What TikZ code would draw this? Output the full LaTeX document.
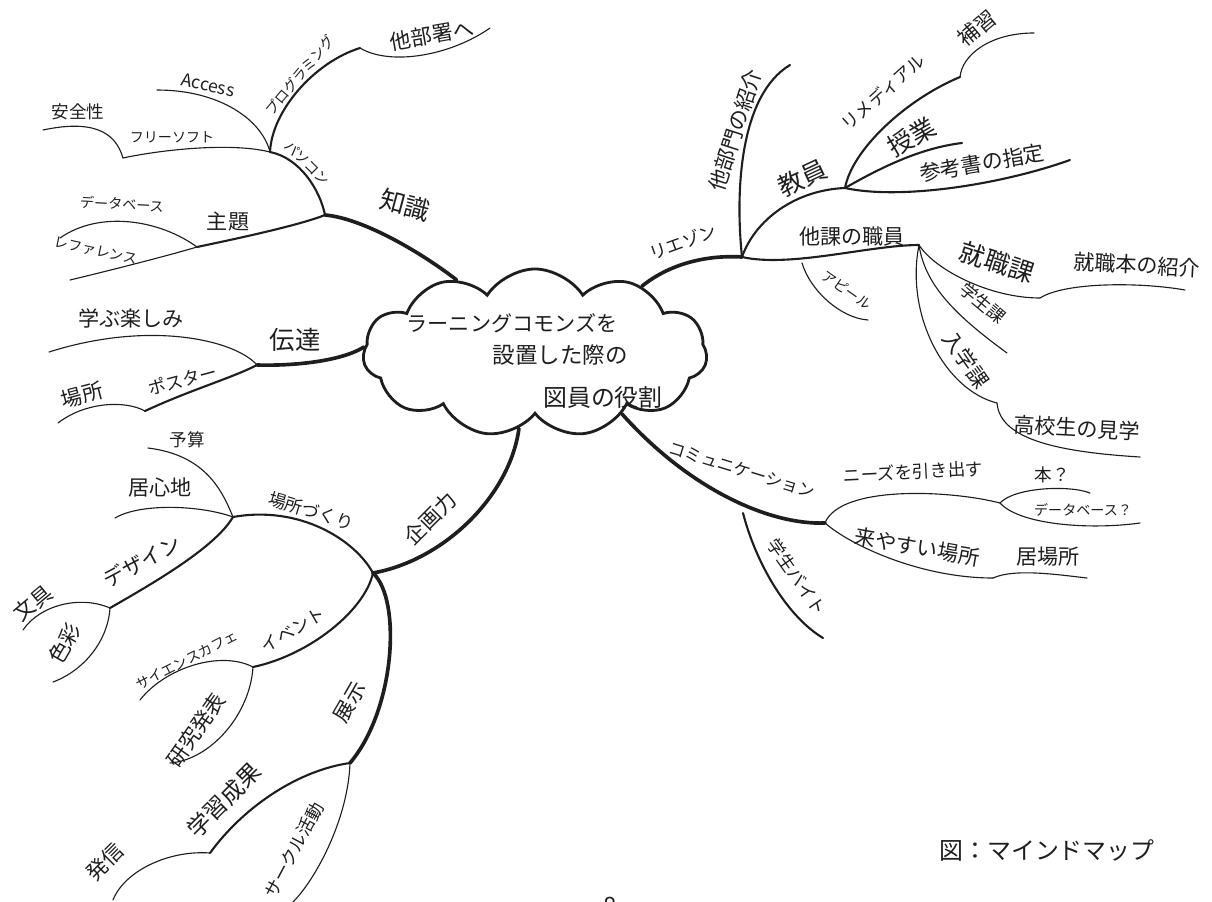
\documentclass[tikz,border=0pt]{standalone}
\usepackage{fontspec}
\setmainfont{Noto Sans CJK JP}
\usepackage{xcolor}
\usetikzlibrary{shapes.symbols}
\definecolor{pencil}{RGB}{30,30,30}

\begin{document}
\begin{tikzpicture}[
    x=0.025cm, y=-0.025cm,
    trunk/.style={draw=pencil, line width=2.6pt, line cap=round},
    limb/.style={draw=pencil, line width=1.5pt, line cap=round},
    twig/.style={draw=pencil, line width=0.8pt, line cap=round},
    txl/.style={text=pencil, inner sep=1pt, font=\fontsize{18}{20}\selectfont},
    tlg/.style={text=pencil, inner sep=1pt, font=\fontsize{15}{17}\selectfont},
    tmd/.style={text=pencil, inner sep=1pt, font=\fontsize{12.5}{14}\selectfont},
    tsm/.style={text=pencil, inner sep=1pt, font=\fontsize{10}{12}\selectfont},
    hubcloud/.style={cloud, cloud puffs=11, cloud puff arc=115, cloud ignores aspect,
                     draw=pencil, line width=2pt, fill=white,
                     minimum width=8.6cm, minimum height=4.2cm},
  ]
  \useasboundingbox (0,0) rectangle (1212,902);

  \node[hubcloud] (hub) at (535,353) {};
  \node[tlg] (hubA) at (512,323) {ラーニングコモンズを};
  \node[tlg, font=\fontsize{16}{18}\selectfont] (hubB) at (560,355) {設置した際の};
  \node[tlg, font=\fontsize{17}{19}\selectfont] (hubC) at (603,397) {図員の役割};

  % junctions and ends
  \coordinate (kn) at (325,215);
  \coordinate (pc) at (270,152);
  \coordinate (pg) at (360,48);
  \coordinate (tb) at (490,28);
  \coordinate (ac) at (157,90);
  \coordinate (fs) at (123,158);
  \coordinate (an) at (43,130);
  \coordinate (sb) at (197,247);
  \coordinate (db) at (60,238);
  \coordinate (rf) at (70,280);

  \coordinate (tr) at (257,365);
  \coordinate (ba) at (49,352);
  \coordinate (po) at (145,411);
  \coordinate (bs) at (58,423);

  \coordinate (kp) at (373,573);
  \coordinate (pm) at (233,517);
  \coordinate (yo) at (148,448);
  \coordinate (ig) at (115,518);
  \coordinate (ds) at (110,608);
  \coordinate (bg) at (23,630);
  \coordinate (ss) at (53,682);
  \coordinate (ev) at (253,667);
  \coordinate (sc) at (140,700);
  \coordinate (kh) at (170,763);
  \coordinate (sh) at (350,763);
  \coordinate (gs) at (210,853);
  \coordinate (hs) at (113,900);
  \coordinate (cl) at (293,902);

  \coordinate (li) at (742,257);
  \coordinate (dm) at (790,65);
  \coordinate (te) at (845,188);
  \coordinate (rm) at (960,77);
  \coordinate (hx) at (1034,33);
  \coordinate (jg) at (962,143);
  \coordinate (sk) at (1070,160);
  \coordinate (ok) at (919,245);
  \coordinate (ap0) at (802,263);
  \coordinate (ap) at (868,320);
  \coordinate (sy) at (1040,298);
  \coordinate (jb) at (1185,290);
  \coordinate (gk) at (1007,353);
  \coordinate (ng) at (997,403);
  \coordinate (kk) at (1140,457);

  \coordinate (co) at (825,523);
  \coordinate (ab0) at (743,513);
  \coordinate (ab) at (823,638);
  \coordinate (ne) at (1000,503);
  \coordinate (hon) at (1090,493);
  \coordinate (dq) at (1140,523);
  \coordinate (kb) at (993,578);
  \coordinate (ib) at (1087,578);

  % 知識
  \draw[trunk] (hub.137) .. controls (415,248) and (360,218) .. (kn);
  \draw[limb] (kn) .. controls (320,190) and (300,158) .. (pc);
  \draw[limb] (pc) .. controls (272,110) and (315,62) .. (pg);
  \draw[twig] (pg) .. controls (390,66) and (450,56) .. (tb);
  \draw[twig] (pc) .. controls (262,120) and (220,90) .. (ac);
  \draw[twig] (pc) .. controls (230,142) and (160,150) .. (fs);
  \draw[twig] (fs) .. controls (115,130) and (90,120) .. (an);
  \draw[limb] (kn) .. controls (300,225) and (240,238) .. (sb);
  \draw[twig] (sb) .. controls (160,220) and (100,210) .. (db);
  \draw[twig] (sb) .. controls (170,255) and (120,268) .. (rf);

  % 伝達
  \draw[trunk] (hub.178) .. controls (340,362) and (290,366) .. (tr);
  \draw[twig] (tr) .. controls (235,340) and (150,320) .. (ba);
  \draw[limb] (tr) .. controls (232,378) and (190,390) .. (po);
  \draw[twig] (po) .. controls (125,400) and (85,402) .. (bs);

  % 企画力
  \draw[trunk] (hub.258) .. controls (510,495) and (445,560) .. (kp);
  \draw[limb] (kp) .. controls (355,540) and (300,505) .. (pm);
  \draw[twig] (pm) .. controls (222,490) and (205,455) .. (yo);
  \draw[twig] (pm) .. controls (200,505) and (140,503) .. (ig);
  \draw[limb] (pm) .. controls (215,548) and (150,585) .. (ds);
  \draw[twig] (ds) .. controls (80,595) and (40,605) .. (bg);
  \draw[twig] (ds) .. controls (108,640) and (85,670) .. (ss);
  \draw[limb] (kp) .. controls (365,610) and (310,655) .. (ev);
  \draw[twig] (ev) .. controls (220,650) and (165,668) .. (sc);
  \draw[twig] (ev) .. controls (250,715) and (210,760) .. (kh);
  \draw[trunk] (kp) .. controls (402,600) and (395,710) .. (sh);
  \draw[limb] (sh) .. controls (300,770) and (245,805) .. (gs);
  \draw[twig] (gs) .. controls (170,850) and (125,870) .. (hs);
  \draw[twig] (sh) .. controls (348,820) and (315,880) .. (cl);

  % リエゾン
  \draw[trunk] (hub.32) .. controls (672,262) and (710,255) .. (li);
  \draw[limb] (li) .. controls (735,190) and (740,95) .. (dm);
  \draw[limb] (li) .. controls (755,220) and (795,190) .. (te);
  \draw[limb] (te) .. controls (852,150) and (905,100) .. (rm);
  \draw[twig] (rm) .. controls (962,55) and (990,33) .. (hx);
  \draw[limb] (te) .. controls (880,168) and (920,148) .. (jg);
  \draw[limb] (te) .. controls (900,200) and (1000,185) .. (sk);
  \draw[limb] (li) .. controls (790,268) and (870,245) .. (ok);
  \draw[twig] (ap0) .. controls (810,290) and (840,318) .. (ap);
  \draw[twig] (ok) .. controls (935,270) and (990,298) .. (sy);
  \draw[twig] (sy) .. controls (1065,282) and (1140,282) .. (jb);
  \draw[twig] (ok) .. controls (925,285) and (955,315) .. (gk);
  \draw[twig] (ok) .. controls (905,315) and (945,390) .. (ng);
  \draw[twig] (ng) .. controls (1000,440) and (1060,452) .. (kk);

  % コミュニケーション
  \draw[trunk] (hub.-35) .. controls (690,490) and (770,525) .. (co);
  \draw[limb] (ab0) .. controls (755,560) and (785,615) .. (ab);
  \draw[twig] (co) .. controls (840,485) and (950,490) .. (ne);
  \draw[twig] (ne) .. controls (1015,487) and (1070,485) .. (hon);
  \draw[twig] (ne) .. controls (1020,525) and (1090,530) .. (dq);
  \draw[twig] (co) .. controls (850,545) and (920,578) .. (kb);
  \draw[twig] (kb) .. controls (1015,568) and (1060,575) .. (ib);

  \node[txl, rotate=-15] (chishiki) at (405,205) {知識};
  \node[tsm, rotate=-45] (pasokon) at (307,163) {パソコン};
  \node[tsm, rotate=50] (programming) at (300,75) {プログラミング};
  \node[tlg, rotate=10] (tabusho) at (432,35) {他部署へ};
  \node[tmd, rotate=-12] (access) at (208,85) {Access};
  \node[tsm] (freesoft) at (172,137) {フリーソフト};
  \node[tmd] (anzen) at (78,112) {安全性};
  \node[tlg] (shudai) at (228,222) {主題};
  \node[tsm, rotate=-3] (database) at (122,204) {データベース};
  \node[tsm, rotate=-12] (reference) at (96,251) {レファレンス};

  \node[txl] (dentatsu) at (295,340) {伝達};
  \node[tlg] (manabu) at (131,318) {学ぶ楽しみ};
  \node[tmd, rotate=15] (poster) at (183,380) {ポスター};
  \node[tlg, rotate=15] (basho) at (82,395) {場所};

  \node[tlg, rotate=45] (kikaku) at (430,518) {企画力};
  \node[tmd, rotate=-17] (bashozukuri) at (311,511) {場所づくり};
  \node[tmd] (yosan) at (187,440) {予算};
  \node[tlg] (igokochi) at (160,487) {居心地};
  \node[tlg, rotate=28] (design) at (142,561) {デザイン};
  \node[tlg, rotate=40] (bungu) at (33,603) {文具};
  \node[tlg, rotate=60] (shikisai) at (65,643) {色彩};
  \node[tmd, rotate=30] (event) at (293,630) {イベント};
  \node[tsm, rotate=27] (cafe) at (187,660) {サイエンスカフェ};
  \node[tlg, rotate=55] (kenkyu) at (196,730) {研究発表};
  \node[tlg, rotate=60] (tenji) at (350,702) {展示};
  \node[tlg, rotate=45, font=\fontsize{16.5}{18}\selectfont] (seika) at (224,800) {学習成果};
  \node[tlg, rotate=45] (hasshin) at (105,862) {発信};
  \node[tmd, rotate=62] (circle) at (294,850) {サークル活動};

  \node[tmd, rotate=20] (liaison) at (683,242) {リエゾン};
  \node[tlg, rotate=72] (bumon) at (735,130) {他部門の紹介};
  \node[txl, rotate=25] (kyoin) at (802,178) {教員};
  \node[tmd, rotate=42] (remedial) at (883,92) {リメディアル};
  \node[tlg, rotate=40] (hoshu) at (977,28) {補習};
  \node[txl, rotate=30] (jugyo) at (912,137) {授業};
  \node[tlg, rotate=10] (sankosho) at (982,163) {参考書の指定};
  \node[tlg] (shokuin) at (852,237) {他課の職員};
  \node[tsm, rotate=-35] (appeal) at (847,290) {アピール};
  \node[txl, rotate=-18] (shushoku) at (997,262) {就職課};
  \node[tlg, rotate=-3] (shushokubon) at (1137,265) {就職本の紹介};
  \node[tmd, rotate=-40] (gakusei) at (983,303) {学生課};
  \node[tlg, rotate=-55] (nyugaku) at (966,360) {入学課};
  \node[tlg, rotate=-3] (kengaku) at (1077,428) {高校生の見学};

  \node[tmd, rotate=-17, font=\fontsize{12}{14}\selectfont] (comm) at (742,470) {コミュニケーション};
  \node[tmd, rotate=-55] (baito) at (797,577) {学生バイト};
  \node[tmd, rotate=3] (needs) at (913,472) {ニーズを引き出す};
  \node[tmd] (honq) at (1052,475) {本？};
  \node[tsm] (dbq) at (1083,510) {データベース？};
  \node[tlg, rotate=-10] (kiyasui) at (917,547) {来やすい場所};
  \node[tlg] (ibasho) at (1048,557) {居場所};

  \node[text=pencil, font=\fontsize{17}{20}\selectfont] (caption) at (1047,850) {図：マインドマップ};
  \node[text=pencil, font=\fontsize{17}{20}\selectfont, anchor=north, inner sep=0pt] (pageno) at (610,897) {8};
\end{tikzpicture}
\end{document}
